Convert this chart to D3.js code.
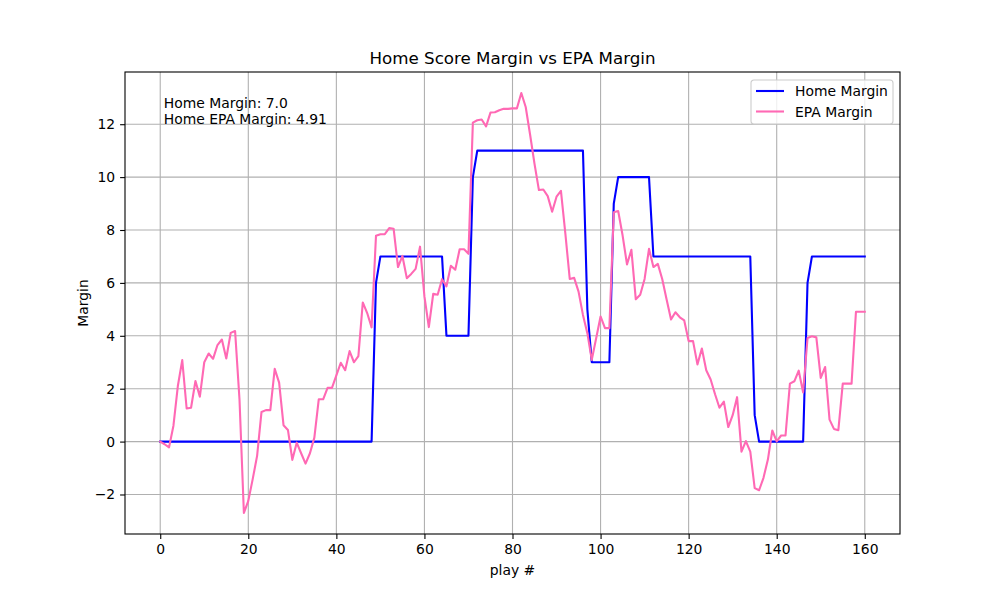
<!DOCTYPE html>
<html>
<head>
<meta charset="utf-8">
<script src="https://cdn.jsdelivr.net/npm/d3@7"></script>
<style>
  body { margin: 0; background: #fff; }
  text { font-family: "DejaVu Sans", sans-serif; }
</style>
</head>
<body>
<svg id="chart" width="1000" height="600"></svg>
<script>
// play-by-play margins, one entry per play (0..160)
const homeMargin = [
    0, 0, 0, 0, 0, 0, 0, 0, 0, 0, 0, 0, 0, 0, 0, 0, 0, 0, 0, 0,
    0, 0, 0, 0, 0, 0, 0, 0, 0, 0, 0, 0, 0, 0, 0, 0, 0, 0, 0, 0,
    0, 0, 0, 0, 0, 0, 0, 0, 0, 6, 7, 7, 7, 7, 7, 7, 7, 7, 7, 7,
    7, 7, 7, 7, 7, 4, 4, 4, 4, 4, 4, 10, 11, 11, 11, 11, 11, 11, 11, 11,
    11, 11, 11, 11, 11, 11, 11, 11, 11, 11, 11, 11, 11, 11, 11, 11, 11, 5, 3, 3,
    3, 3, 3, 9, 10, 10, 10, 10, 10, 10, 10, 10, 7, 7, 7, 7, 7, 7, 7, 7,
    7, 7, 7, 7, 7, 7, 7, 7, 7, 7, 7, 7, 7, 7, 7, 1, 0, 0, 0, 0,
    0, 0, 0, 0, 0, 0, 0, 6, 7, 7, 7, 7, 7, 7, 7, 7, 7, 7, 7, 7,
    7
];
const epaMargin = [
    0, -0.1, -0.22, 0.6, 2.1, 3.08, 1.25, 1.28, 2.29, 1.7,
    3.0, 3.33, 3.13, 3.65, 3.86, 3.14, 4.11, 4.18, 1.6, -2.7,
    -2.24, -1.42, -0.54, 1.12, 1.19, 1.19, 2.75, 2.23, 0.62, 0.44,
    -0.69, -0.04, -0.44, -0.83, -0.44, 0.15, 1.6, 1.6, 2.03, 2.03,
    2.5, 2.98, 2.7, 3.42, 3.0, 3.23, 5.26, 4.86, 4.32, 7.78,
    7.84, 7.84, 8.07, 8.05, 6.6, 7.02, 6.18, 6.34, 6.53, 7.37,
    5.49, 4.33, 5.59, 5.55, 6.14, 5.87, 6.65, 6.5, 7.27, 7.27,
    7.1, 12.06, 12.15, 12.18, 11.92, 12.44, 12.45, 12.53, 12.58, 12.58,
    12.6, 12.6, 13.18, 12.65, 11.6, 10.5, 9.51, 9.53, 9.28, 8.69,
    9.26, 9.48, 7.87, 6.15, 6.19, 5.67, 4.79, 4.1, 3.09, 3.91,
    4.73, 4.29, 4.29, 8.67, 8.72, 7.8, 6.7, 7.25, 5.38, 5.55,
    6.15, 7.29, 6.6, 6.72, 6.15, 5.37, 4.62, 4.89, 4.7, 4.58,
    3.8, 3.8, 2.92, 3.52, 2.7, 2.35, 1.79, 1.28, 1.51, 0.55,
    1.0, 1.68, -0.38, 0.02, -0.38, -1.76, -1.84, -1.37, -0.68, 0.42,
    0.01, 0.23, 0.23, 2.19, 2.28, 2.68, 1.86, 3.92, 3.98, 3.94,
    2.41, 2.82, 0.83, 0.48, 0.43, 2.19, 2.19, 2.19, 4.91, 4.91,
    4.91
];
const xTicks = [0, 20, 40, 60, 80, 100, 120, 140, 160];
const yTicks = [-2, 0, 2, 4, 6, 8, 10, 12];
const seriesNames = ['Home Margin', 'EPA Margin'];
const seriesColors = ['#0000ff', '#ff69b4'];

const width = 1000, height = 600;
const margin = {top: 72, right: 100, bottom: 66, left: 125};
const innerW = width - margin.left - margin.right;
const innerH = height - margin.top - margin.bottom;

const svg = d3.select('#chart');
const g = svg.append('g').attr('transform', `translate(${margin.left},${margin.top})`);

// matplotlib style 5% padding around the data range
const n = homeMargin.length - 1;
const all = homeMargin.concat(epaMargin);
const yMin = d3.min(all), yMax = d3.max(all);
const yPad = (yMax - yMin) * 0.05;
const x = d3.scaleLinear().domain([-n * 0.05, n * 1.05]).range([0, innerW]);
const y = d3.scaleLinear().domain([yMin - yPad, yMax + yPad]).range([innerH, 0]);

// grid
g.append('g').selectAll('line').data(xTicks).join('line')
    .attr('x1', d => x(d)).attr('x2', d => x(d))
    .attr('y1', 0).attr('y2', innerH)
    .attr('stroke', '#b0b0b0').attr('stroke-width', 1.1);
g.append('g').selectAll('line').data(yTicks).join('line')
    .attr('x1', 0).attr('x2', innerW)
    .attr('y1', d => y(d)).attr('y2', d => y(d))
    .attr('stroke', '#b0b0b0').attr('stroke-width', 1.1);

// lines
const line = d3.line().x((d, i) => x(i)).y(d => y(d));
[homeMargin, epaMargin].forEach((s, k) => {
    g.append('path')
        .datum(s)
        .attr('d', line)
        .attr('fill', 'none')
        .attr('stroke', seriesColors[k])
        .attr('stroke-width', 2.1)
        .attr('stroke-linejoin', 'round')
        .attr('stroke-linecap', 'square');
});

// axes
const fmt = d => d < 0 ? '\u2212' + Math.abs(d) : String(d);
const xAxis = g.append('g')
    .attr('transform', `translate(0,${innerH})`)
    .call(d3.axisBottom(x).tickValues(xTicks).tickFormat(fmt).tickSize(4.9).tickPadding(4.9));
const yAxis = g.append('g')
    .call(d3.axisLeft(y).tickValues(yTicks).tickFormat(fmt).tickSize(4.9).tickPadding(4.9));
[xAxis, yAxis].forEach(a => {
    a.select('.domain').remove();
    a.selectAll('line').attr('stroke', '#000').attr('stroke-width', 1.1);
    a.selectAll('text')
        .style('font-family', '"DejaVu Sans", sans-serif')
        .style('font-size', '13.9px')
        .attr('fill', '#000');
});

// frame
g.append('rect')
    .attr('width', innerW).attr('height', innerH)
    .attr('fill', 'none').attr('stroke', '#000').attr('stroke-width', 1.1);

// titles
svg.append('text')
    .attr('x', margin.left + innerW / 2).attr('y', 64)
    .attr('text-anchor', 'middle')
    .style('font-size', '16.7px')
    .text('Home Score Margin vs EPA Margin');
svg.append('text')
    .attr('x', margin.left + innerW / 2).attr('y', 575)
    .attr('text-anchor', 'middle')
    .style('font-size', '13.9px')
    .text('play #');
svg.append('text')
    .attr('transform', `translate(88,${margin.top + innerH / 2}) rotate(-90)`)
    .attr('text-anchor', 'middle')
    .style('font-size', '13.9px')
    .text('Margin');

// annotation with final values
const note = g.append('text')
    .attr('x', innerW * 0.05).attr('y', innerH * 0.05)
    .style('font-size', '13.9px');
note.append('tspan').attr('x', innerW * 0.05).attr('dy', '0.95em')
    .text(`Home Margin: ${homeMargin[n].toFixed(1)}`);
note.append('tspan').attr('x', innerW * 0.05).attr('dy', '1.15em')
    .text(`Home EPA Margin: ${epaMargin[n]}`);

// legend
const lg = g.append('g').attr('transform', `translate(${innerW - 149},8)`);
lg.append('rect')
    .attr('width', 142).attr('height', 44).attr('rx', 3)
    .attr('fill', '#fff').attr('fill-opacity', 0.8)
    .attr('stroke', '#cccccc').attr('stroke-width', 1.1);
seriesNames.forEach((name, k) => {
    const yy = 11 + k * 20.5;
    lg.append('line')
        .attr('x1', 5).attr('x2', 33).attr('y1', yy).attr('y2', yy)
        .attr('stroke', seriesColors[k]).attr('stroke-width', 2.1);
    lg.append('text')
        .attr('x', 44).attr('y', yy + 5)
        .style('font-size', '13.9px')
        .text(name);
});
</script>
</body>
</html>
